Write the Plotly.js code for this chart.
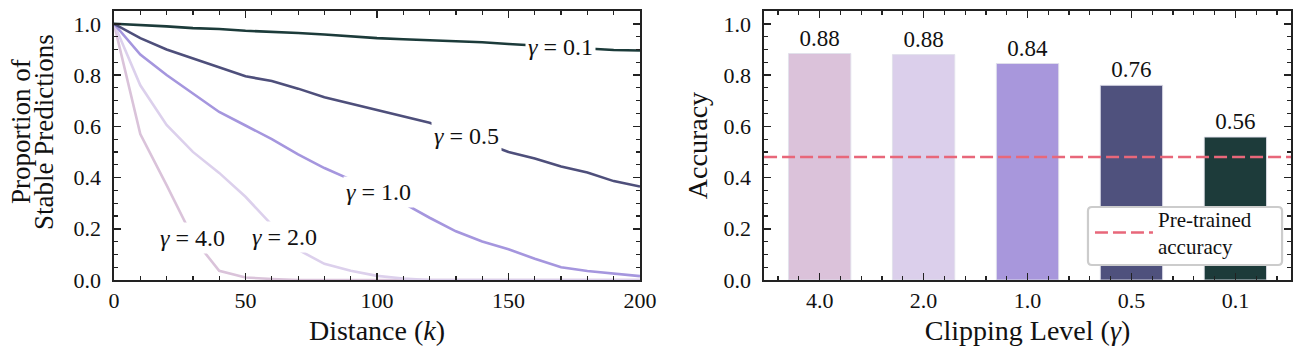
<!DOCTYPE html>
<html><head><meta charset="utf-8">
<script src="https://cdn.plot.ly/plotly-3.0.1.min.js"></script>
<style>html,body{margin:0;padding:0;background:#fff}</style>
</head><body><div id="chart" style="width:1301px;height:361px"></div>
<script>
// ---------------- data ----------------
const distance = [0,10,20,30,40,50,60,70,80,90,100,110,120,130,140,150,160,170,180,190,200];
const stable_g01 = [1.0,0.996,0.99,0.983,0.98,0.973,0.969,0.964,0.958,0.95,0.944,0.94,0.936,0.933,0.928,0.921,0.915,0.909,0.902,0.898,0.896];
const stable_g05 = [1.0,0.944,0.9,0.864,0.829,0.795,0.777,0.747,0.713,0.688,0.664,0.64,0.614,0.577,0.537,0.5,0.474,0.443,0.42,0.386,0.365];
const stable_g10 = [1.0,0.88,0.8,0.728,0.656,0.603,0.55,0.49,0.437,0.392,0.345,0.3,0.243,0.19,0.15,0.12,0.083,0.05,0.035,0.025,0.015];
const stable_g20 = [1.0,0.76,0.605,0.5,0.418,0.325,0.215,0.118,0.063,0.036,0.016,0.006,0.0,0,0,0,0,0,0,0,0];
const stable_g40 = [1.0,0.57,0.37,0.165,0.036,0.01,0.004,0,0,0,0,0,0,0,0,0,0,0,0,0,0];
const gammaNames = ["0.1","0.5","1.0","2.0","4.0"];
const labelAt = [169.6,134,100.4,65,30];   // distance where each inline label sits

const clipLevels = ["4.0","2.0","1.0","0.5","0.1"];
const accuracy = [0.884,0.880,0.845,0.760,0.558];
const pretrainedAccuracy = 0.48;

// ---------------- style ----------------
const FONT = "'Liberation Serif', 'Times New Roman', serif";
const lineColors = ["#1c3b3a","#4e4f7b","#a596de","#dcd0ec","#dac3da"];
const barColors = ["#dbc2da","#dbcfeb","#a897dc","#4f517d","#1d3b3a"];
const series = [stable_g01,stable_g05,stable_g10,stable_g20,stable_g40];

function interp(xs, ys, x){
  for(let i=0;i<xs.length-1;i++){
    if(x>=xs[i] && x<=xs[i+1]){const t=(x-xs[i])/(xs[i+1]-xs[i]);return ys[i]+t*(ys[i+1]-ys[i]);}
  }
  return ys[ys.length-1];
}

const traces = [];
for(let i=series.length-1;i>=0;i--){
  traces.push({type:'scatter',mode:'lines',x:distance,y:series[i],xaxis:'x',yaxis:'y',
    line:{color:lineColors[i],width:2.6},showlegend:false,hoverinfo:'skip'});
}
traces.push({type:'bar',x:clipLevels.map((_,i)=>i),y:accuracy,xaxis:'x2',yaxis:'y2',width:0.6,
  marker:{color:barColors,line:{color:'rgba(225,225,235,0.9)',width:1}},
  texttemplate:'%{y:.2f}',textposition:'outside',cliponaxis:false,
  textfont:{family:FONT,size:23,color:'#111'},showlegend:false,hoverinfo:'skip'});

const annotations = gammaNames.map((g,i)=>({
  x:labelAt[i], y:interp(distance,series[i],labelAt[i]), xref:'x', yref:'y',
  text:'<i>γ</i> = '+g, showarrow:false, bgcolor:'#ffffff', borderpad:2,
  font:{family:FONT,size:24,color:'#111'}, xanchor:'center', yanchor:'middle'
}));
annotations.push({xref:'paper',yref:'paper',x:0,y:0.55,xanchor:'center',yanchor:'middle',xshift:-93,
  text:'Proportion of',textangle:-90,showarrow:false,font:{family:FONT,size:27,color:'#111'}});
annotations.push({xref:'paper',yref:'paper',x:0,y:0.55,xanchor:'center',yanchor:'middle',xshift:-70,
  text:'Stable Predictions',textangle:-90,showarrow:false,font:{family:FONT,size:27,color:'#111'}});

const minorStyle = {ticks:'inside',ticklen:4,tickwidth:1.2,tickcolor:'#222',showgrid:false};
function axis(extra){
  return Object.assign({showline:true,linecolor:'#222',linewidth:1.6,mirror:'allticks',
    ticks:'inside',ticklen:7,tickwidth:1.5,tickcolor:'#222',showgrid:false,zeroline:false,
    tickfont:{family:FONT,size:22,color:'#111'}},extra);
}
const titleFont = {family:FONT,size:28,color:'#111'};

// rounded legend frame (paper coordinates)
const fx0=0.8275, fx1=0.9924, fy0=0.0558, fy1=0.2714, rx=0.0034, ry=0.0149;
const framePath = `M${fx0+rx},${fy0} L${fx1-rx},${fy0} Q${fx1},${fy0} ${fx1},${fy0+ry} L${fx1},${fy1-ry} Q${fx1},${fy1} ${fx1-rx},${fy1} L${fx0+rx},${fy1} Q${fx0},${fy1} ${fx0},${fy1-ry} L${fx0},${fy0+ry} Q${fx0},${fy0} ${fx0+rx},${fy0} Z`;

const layout = {
  width:1301,height:361,margin:{l:114,r:10,t:11,b:81},
  paper_bgcolor:'#fff',plot_bgcolor:'#fff',
  font:{family:FONT,color:'#111'},
  xaxis:axis({domain:[0,0.4469],range:[0,200],dtick:50,tick0:0,anchor:'y',ticklabelstandoff:0,
    minor:Object.assign({dtick:10,tick0:0},minorStyle),
    title:{text:'Distance (<i>k</i>)',font:titleFont,standoff:8}}),
  yaxis:axis({range:[0,1.05],dtick:0.2,tick0:0,tickformat:'.1f',anchor:'x',ticklabelstandoff:7,
    minor:Object.assign({dtick:0.05,tick0:0},minorStyle)}),
  xaxis2:axis({domain:[0.5523,1],range:[-0.535,4.535],tickvals:clipLevels.map((_,i)=>i),ticktext:clipLevels,
    anchor:'y2',ticklabelstandoff:0,
    minor:Object.assign({dtick:0.2,tick0:0},minorStyle),
    title:{text:'Clipping Level (<i>γ</i>)',font:titleFont,standoff:8}}),
  yaxis2:axis({range:[0,1.05],dtick:0.2,tick0:0,tickformat:'.1f',anchor:'x2',ticklabelstandoff:7,
    minor:Object.assign({dtick:0.05,tick0:0},minorStyle),
    title:{text:'Accuracy',font:titleFont,standoff:8}}),
  shapes:[
    {type:'line',xref:'x2 domain',yref:'y2',x0:0,x1:1,y0:pretrainedAccuracy,y1:pretrainedAccuracy,
      line:{color:'#e8677a',width:2.4,dash:'13px,5px'},layer:'above',
      showlegend:true,name:'Pre-trained<br>accuracy'},
    {type:'path',xref:'paper',yref:'paper',path:framePath,fillcolor:'#ffffff',opacity:1,
      line:{color:'#cccccc',width:2.2},layer:'above'}
  ],
  legend:{x:0.8292,y:(fy0+fy1)/2+0.012,xanchor:'left',yanchor:'middle',bgcolor:'rgba(0,0,0,0)',
    borderwidth:0,font:{family:FONT,size:21,color:'#111'},itemwidth:58},
  annotations:annotations
};
Plotly.newPlot('chart',traces,layout,{staticPlot:true,displayModeBar:false});
</script></body></html>
